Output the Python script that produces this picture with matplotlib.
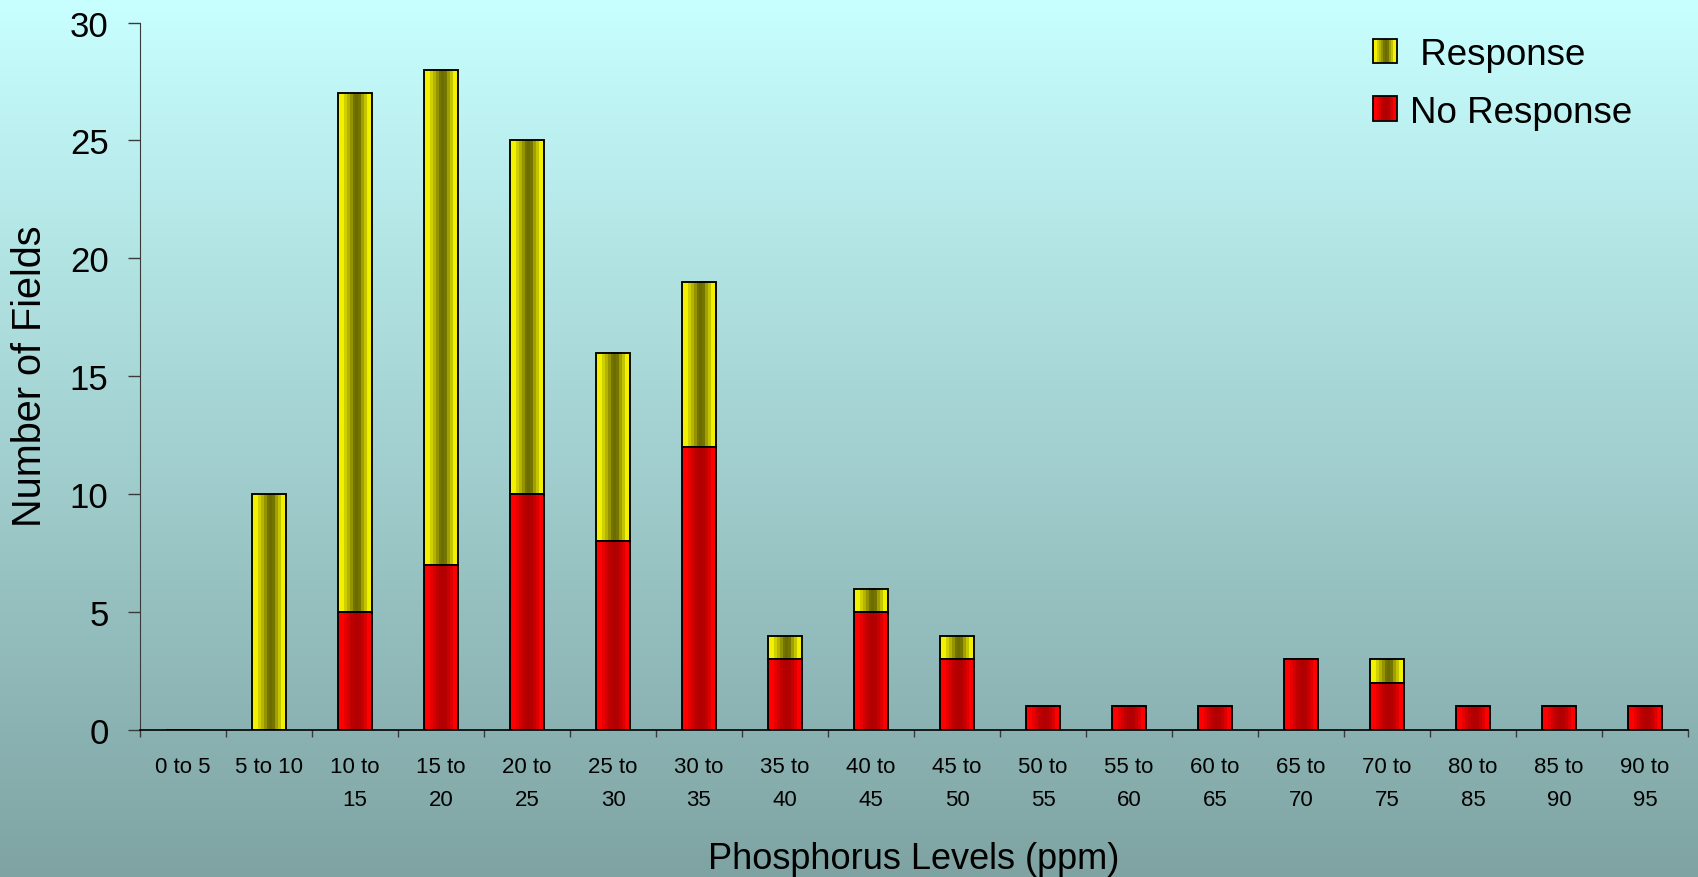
import numpy as np
import matplotlib.pyplot as plt
from matplotlib.colors import to_rgb
from matplotlib.patches import Rectangle, Patch
from matplotlib.legend_handler import HandlerPatch

plt.rcParams['font.family'] = ['Liberation Sans', 'DejaVu Sans']

# Fields per phosphorus range
categories = ['0 to 5', '5 to 10', '10 to\n15', '15 to\n20', '20 to\n25', '25 to\n30',
              '30 to\n35', '35 to\n40', '40 to\n45', '45 to\n50', '50 to\n55', '55 to\n60',
              '60 to\n65', '65 to\n70', '70 to\n75', '80 to\n85', '85 to\n90', '90 to\n95']
no_response = [0, 0, 5, 7, 10, 8, 12, 3, 5, 3, 1, 1, 1, 3, 2, 1, 1, 1]
response = [0, 10, 22, 21, 15, 8, 7, 1, 1, 1, 0, 0, 0, 0, 1, 0, 0, 0]

# vertical stripes: bright edges, dark middle
yellow_stripes = ['#f2f200', '#f2f200', '#d0d000', '#b4b400', '#949400', '#747400',
                  '#6c6c00', '#747400', '#a0a000', '#c4c400', '#f2f200', '#f2f200']
red_stripes = ['#ff0000', '#ff0000', '#e80000', '#d20000', '#c00000', '#b40000',
               '#b00000', '#b40000', '#c40000', '#dc0000', '#ff0000', '#ff0000']


def stripe_image(colors):
    return np.array([to_rgb(c) for c in colors])[None, :, :]


class StripeHandler(HandlerPatch):
    def __init__(self, colors):
        super().__init__()
        self.colors = colors

    def create_artists(self, legend, orig_handle, xdescent, ydescent,
                       width, height, fontsize, trans):
        n = len(self.colors)
        arts = []
        for i, c in enumerate(self.colors):
            arts.append(Rectangle((-xdescent + i * width / n, -ydescent), width / n, height,
                                  facecolor=c, edgecolor='none', transform=trans))
        arts.append(Rectangle((-xdescent, -ydescent), width, height, facecolor='none',
                              edgecolor='black', lw=1.3, transform=trans))
        return arts


fig = plt.figure(figsize=(16.99, 8.78), dpi=100)

# background gradient over the whole figure
bg = fig.add_axes([0, 0, 1, 1], zorder=-1)
top = np.array([200, 255, 255]) / 255
bottom = np.array([127, 163, 163]) / 255
t = np.linspace(0, 1, 256)[:, None]
grad = (top * (1 - t) + bottom * t)[:, None, :]
bg.imshow(grad, aspect='auto', extent=(0, 1, 0, 1), interpolation='bilinear')
bg.axis('off')

ax = fig.add_axes([0.0824, 0.1674, 0.9111, 0.8058])
ax.set_facecolor('none')

x = np.arange(len(categories))
bars_no = ax.bar(x, no_response, width=0.4, color='none', edgecolor='black', lw=1.35, zorder=3)
bars_yes = ax.bar(x, response, width=0.4, bottom=no_response, color='none',
                  edgecolor='black', lw=1.35, zorder=3)

for bars, stripes in ((bars_no, red_stripes), (bars_yes, yellow_stripes)):
    img = stripe_image(stripes)
    for p in bars:
        if p.get_height() <= 0:
            continue
        x0, y0 = p.get_x(), p.get_y()
        ax.imshow(img, extent=(x0, x0 + p.get_width(), y0, y0 + p.get_height()),
                  aspect='auto', interpolation='nearest', zorder=2)

ax.set_xlim(-0.5, len(categories) - 0.5)
ax.set_ylim(0, 30)

ax.spines['top'].set_visible(False)
ax.spines['right'].set_visible(False)
ax.spines['left'].set_color('#3a3a3a')
ax.spines['bottom'].set_color('black')
ax.spines['bottom'].set_linewidth(1.2)

ax.set_yticks(np.arange(0, 31, 5))
ax.tick_params(axis='y', labelsize=25, length=8.6, width=1, color='#3a3a3a', pad=14)

ax.set_xticks(x)
ax.set_xticklabels(categories)
ax.set_xticks(np.arange(-0.5, len(categories), 1), minor=True)
ax.tick_params(axis='x', which='major', length=0, labelsize=16, pad=18.4)
ax.tick_params(axis='x', which='minor', length=5, width=1, color='#3a3a3a')
for lbl in ax.get_xticklabels():
    lbl.set_linespacing(1.76)

fig.text(0.0177, 0.572, 'Number of Fields', rotation=90, ha='center', va='center', fontsize=28.5)
fig.text(0.538, 0.010, 'Phosphorus Levels (ppm)', ha='center', va='baseline', fontsize=26)

h_yes = Patch(label=' Response')
h_no = Patch(label='No Response')
ax.legend(handles=[h_yes, h_no],
          handler_map={h_yes: StripeHandler(yellow_stripes), h_no: StripeHandler(red_stripes)},
          loc='upper left', bbox_to_anchor=(0.808, 0.957), bbox_transform=fig.transFigure,
          frameon=False, fontsize=26.5, handlelength=0.65, handleheight=0.65,
          handletextpad=0.36, labelspacing=0.62, borderpad=0, borderaxespad=0)

fig.savefig('out.png', dpi=100)
